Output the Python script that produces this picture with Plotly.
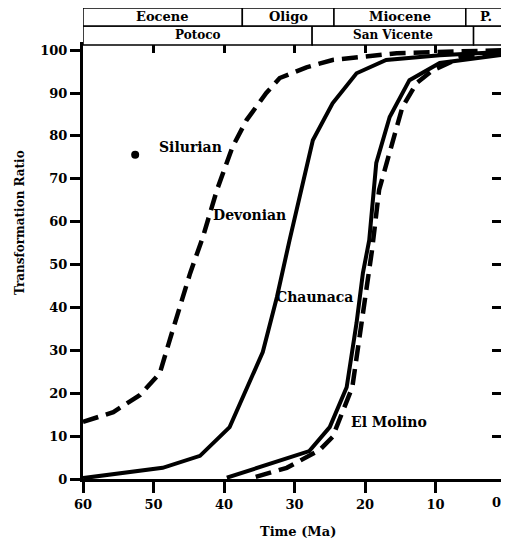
import plotly.graph_objects as go

# ---- data ----
silurian_t = [60, 55.7, 51.9, 49.1, 47.7, 46.3, 44.8, 43.0, 41.0, 38.8, 36.8, 34.0, 32.1, 28.3, 24.6, 15.5, 0]
silurian_r = [13.3, 15.6, 19.6, 24.7, 32.4, 40.1, 48.0, 56.4, 67.4, 77.4, 83.7, 90.0, 93.5, 96.0, 97.7, 99.3, 100]

devonian_t = [60, 48.7, 43.4, 39.2, 34.5, 32.5, 30.7, 27.4, 24.6, 21.2, 17.0, 9.4, 0]
devonian_r = [0.2, 2.6, 5.4, 12.1, 29.6, 42.4, 55.7, 79.0, 87.6, 94.6, 97.7, 98.8, 99.6]

chaunaca_t = [39.6, 27.9, 25.0, 22.6, 21.2, 20.3, 19.4, 18.4, 16.5, 13.7, 9.4, 0]
chaunaca_r = [0.3, 6.5, 12.1, 21.4, 36.4, 48.0, 55.7, 73.7, 84.4, 93.0, 97.0, 99.0]

elmolino_t = [35.5, 31.1, 26.4, 24.6, 21.8, 20.8, 19.8, 19.0, 18.0, 16.1, 14.7, 12.7, 10.4, 6.2, 0]
elmolino_r = [0.5, 2.6, 6.8, 9.8, 21.4, 32.4, 44.0, 53.4, 67.4, 79.0, 86.7, 92.3, 95.3, 98.4, 99.4]

series_names = ["Silurian", "Devonian", "Chaunaca", "El Molino"]
label_t = [44.8, 36.4, 27.2, 16.6]
label_r = [77.4, 61.5, 42.4, 13.3]

epoch_names = ["Eocene", "Oligo", "Miocene", "P."]
epoch_bounds = [60, 37.4, 24.4, 5.7, 0]
formation_names = ["Potoco", "San Vicente", ""]
formation_bounds = [60, 27.5, 4.6, 0]

x_ticks = [60, 50, 40, 30, 20, 10, 0]
x_tick_labels = ["60", "50", "40", "30", "20", "10", "0"]
y_ticks = [0, 10, 20, 30, 40, 50, 60, 70, 80, 90, 100]

FONT = "DejaVu Serif"

fig = go.Figure()
dash = "16px,8px"
fig.add_trace(go.Scatter(x=silurian_t, y=silurian_r, mode="lines",
                         line=dict(color="black", width=4.5, dash=dash), showlegend=False))
fig.add_trace(go.Scatter(x=devonian_t, y=devonian_r, mode="lines",
                         line=dict(color="black", width=4), showlegend=False))
fig.add_trace(go.Scatter(x=chaunaca_t, y=chaunaca_r, mode="lines",
                         line=dict(color="black", width=4), showlegend=False))
fig.add_trace(go.Scatter(x=elmolino_t, y=elmolino_r, mode="lines",
                         line=dict(color="black", width=4.5, dash=dash), showlegend=False))
# dummy trace on the mirrored axes (top / right)
fig.add_trace(go.Scatter(x=[60], y=[0], xaxis="x2", yaxis="y2", mode="markers",
                         marker=dict(opacity=0), showlegend=False, hoverinfo="skip"))

# curve labels
for name, t, r in zip(series_names, label_t, label_r):
    fig.add_annotation(x=t, y=r, text=name, showarrow=False, xanchor="center", yanchor="middle",
                       font=dict(family=FONT, size=14, color="black", weight="bold"))
# the small dot near Silurian
fig.add_trace(go.Scatter(x=[52.6], y=[75.6], mode="markers",
                         marker=dict(color="black", size=8), showlegend=False))

# header boxes (epochs / formations)
row1 = (1.0, 1.0438)
row2 = (1.0438, 1.0853)
for i, name in enumerate(formation_names):
    x0, x1 = formation_bounds[i], formation_bounds[i + 1]
    fig.add_shape(type="rect", xref="x", yref="paper", x0=x0, x1=x1, y0=row1[0], y1=row1[1],
                  line=dict(color="black", width=1.5), fillcolor="white")
    if name:
        fig.add_annotation(x=(x0 + x1) / 2, y=(row1[0] + row1[1]) / 2, xref="x", yref="paper",
                           xanchor="center", yanchor="middle",
                           text=name, showarrow=False,
                           font=dict(family=FONT, size=12, color="black", weight="bold"))
for i, name in enumerate(epoch_names):
    x0, x1 = epoch_bounds[i], epoch_bounds[i + 1]
    fig.add_shape(type="rect", xref="x", yref="paper", x0=x0, x1=x1, y0=row2[0], y1=row2[1],
                  line=dict(color="black", width=1.5), fillcolor="white")
    fig.add_annotation(x=(x0 + x1) / 2, y=(row2[0] + row2[1]) / 2, xref="x", yref="paper",
                       xanchor="center", yanchor="middle",
                       text=name, showarrow=False,
                       font=dict(family=FONT, size=13, color="black", weight="bold"))

# axis titles as annotations (positioned like the reference)
fig.add_annotation(x=0.508, y=-0.122, xref="paper", yref="paper", text="Time (Ma)",
                   showarrow=False, xanchor="center", yanchor="middle",
                   font=dict(family=FONT, size=13, color="black", weight="bold"))
fig.add_annotation(x=-0.149, y=0.592, xref="paper", yref="paper", text="Transformation Ratio",
                   showarrow=False, xanchor="center", yanchor="middle", textangle=-90,
                   font=dict(family=FONT, size=12, color="black", weight="bold"))

tickfont = dict(family=FONT, size=13, color="black", weight="bold")
# the last tick label sits at the right edge: draw it right-aligned so it stays visible
shown_labels = x_tick_labels[:-1] + [""]
fig.add_annotation(x=x_ticks[-1], y=-0.055, xref="x", yref="paper", text=x_tick_labels[-1],
                   showarrow=False, xanchor="right", yanchor="middle", xshift=-3,
                   font=tickfont)

fig.update_layout(
    width=501, height=540,
    margin=dict(l=75, r=3, t=37, b=69, autoexpand=False),
    paper_bgcolor="white", plot_bgcolor="white",
    font=dict(family=FONT, color="black"),
    xaxis=dict(range=[60, 0], tickvals=x_ticks, ticktext=shown_labels, ticks="outside",
               ticklen=11, tickwidth=2.5,
               tickcolor="black", showline=True, linewidth=3, linecolor="black",
               showgrid=False, zeroline=False, tickfont=tickfont, automargin=False),
    yaxis=dict(range=[0, 101.2], tickvals=y_ticks, ticks="outside", ticklen=10, tickwidth=2.5,
               tickcolor="black", showline=True, linewidth=3, linecolor="black",
               showgrid=False, zeroline=False, tickfont=tickfont, automargin=False),
    xaxis2=dict(range=[60, 0], overlaying="x", side="top", anchor="y2", tickvals=x_ticks,
                ticks="inside", ticklen=8, tickwidth=2.5, tickcolor="black",
                showticklabels=False, showline=True, linewidth=3, linecolor="black",
                showgrid=False, zeroline=False, automargin=False),
    yaxis2=dict(range=[0, 101.2], overlaying="y", side="right", anchor="x2", tickvals=y_ticks,
                ticks="inside", ticklen=14, tickwidth=2.5, tickcolor="black",
                showticklabels=False, showline=True, linewidth=3, linecolor="black",
                showgrid=False, zeroline=False, automargin=False),
)

fig.write_html("out.html")
